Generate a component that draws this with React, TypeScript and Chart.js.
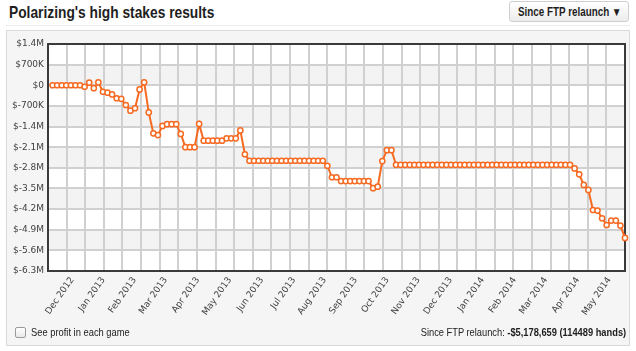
import React, { useEffect, useRef } from 'react';
import { Chart, registerables } from 'chart.js';

Chart.register(...registerables);

const monthLabels = [
  'Dec 2012', 'Jan 2013', 'Feb 2013', 'Mar 2013', 'Apr 2013', 'May 2013',
  'Jun 2013', 'Jul 2013', 'Aug 2013', 'Sep 2013', 'Oct 2013', 'Nov 2013',
  'Dec 2013', 'Jan 2014', 'Feb 2014', 'Mar 2014', 'Apr 2014', 'May 2014',
];
// position of each month tick along the game-index axis
const monthTickPos = [
  4.3, 11.1, 17.9, 24.7, 31.7, 38.7, 45.7, 52.7, 59.4,
  66.2, 73.1, 79.9, 86.9, 93.9, 100.9, 107.7, 114.7, 121.6,
];

// cumulative profit ($) after each game sample
const profit = [
  0, 0, 0, 0, 0, 0, 0, -50000,
  90000, -100000, 100000, -220000, -250000, -310000, -440000, -460000,
  -670000, -860000, -780000, -140000, 100000, -920000, -1630000, -1690000,
  -1380000, -1320000, -1320000, -1320000, -1650000, -2100000, -2100000, -2100000,
  -1310000, -1880000, -1880000, -1880000, -1880000, -1880000, -1800000, -1800000,
  -1800000, -1530000, -2340000, -2560000,
  -2560000, -2560000, -2560000, -2560000, -2560000, -2560000, -2560000, -2560000,
  -2560000, -2560000, -2560000, -2560000, -2560000, -2560000, -2560000, -2560000,
  -2730000, -3120000, -3120000, -3250000, -3250000, -3250000, -3250000, -3250000,
  -3250000, -3250000, -3490000, -3440000, -2570000, -2200000, -2200000, -2700000,
  -2700000, -2700000, -2700000, -2700000, -2700000, -2700000, -2700000, -2700000,
  -2700000, -2700000, -2700000, -2700000, -2700000, -2700000, -2700000, -2700000,
  -2700000, -2700000, -2700000, -2700000, -2700000, -2700000, -2700000, -2700000,
  -2700000, -2700000, -2700000, -2700000, -2700000, -2700000, -2700000, -2700000,
  -2700000, -2700000, -2700000, -2700000, -2700000, -2700000,
  -2820000, -3020000, -3380000, -3550000, -4230000, -4250000, -4510000, -4740000,
  -4590000, -4590000, -4760000, -5178659,
];

const yMin = -6300000;
const yMax = 1400000;
const yStep = 700000;
const xMin = -1;
const xMax = 125;
const gridDivisions = 31;

function fmtMoney(v: number): string {
  if (v === 0) return '$0';
  const a = Math.abs(v);
  const sign = v < 0 ? '-' : '';
  if (a >= 1000000) return '$' + sign + (Math.round(a / 100000) / 10) + 'M';
  return '$' + sign + Math.round(a / 1000) + 'K';
}

const plotFrame = {
  id: 'plotFrame',
  beforeDraw(chart: any) {
    const { ctx, chartArea: a, scales } = chart;
    const y = scales.y;
    ctx.save();
    ctx.fillStyle = '#ffffff';
    ctx.fillRect(a.left, a.top, a.right - a.left, a.bottom - a.top);
    const vals = y.ticks.map((t: any) => t.value).sort((p: number, q: number) => q - p);
    ctx.fillStyle = '#f3f3f3';
    for (let k = 0; k < vals.length - 1; k++) {
      if (k % 2 === 1) {
        const y1 = y.getPixelForValue(vals[k]);
        const y2 = y.getPixelForValue(vals[k + 1]);
        ctx.fillRect(a.left, y1, a.right - a.left, y2 - y1);
      }
    }
    ctx.restore();
  },
  beforeDatasetsDraw(chart: any) {
    const { ctx, chartArea: a } = chart;
    ctx.save();
    ctx.strokeStyle = '#3a3a3a';
    ctx.lineWidth = 2;
    ctx.strokeRect(a.left, a.top, a.right - a.left, a.bottom - a.top);
    ctx.restore();
  },
};

function ProfitChart() {
  const ref = useRef<HTMLCanvasElement | null>(null);
  useEffect(() => {
    if (!ref.current) return;
    const tickFont = { family: "'DejaVu Sans', Verdana, sans-serif", size: 9 };
    const chart = new Chart(ref.current, {
      type: 'line',
      data: {
        datasets: [
          {
            data: profit.map((v, i) => ({ x: i, y: v })),
            borderColor: '#f76a22',
            borderWidth: 2,
            pointRadius: 2.6,
            pointBorderWidth: 1.5,
            pointBackgroundColor: '#ffffff',
            pointBorderColor: '#f76a22',
            tension: 0,
            clip: false,
            xAxisID: 'x',
            yAxisID: 'y',
          } as any,
        ],
      },
      options: {
        responsive: false,
        animation: false,
        devicePixelRatio: 1,
        events: [],
        layout: { padding: { top: 44, right: 11, bottom: 20, left: 0 } },
        plugins: { legend: { display: false }, tooltip: { enabled: false }, title: { display: false } },
        scales: {
          xg: {
            type: 'linear',
            position: 'bottom',
            min: xMin,
            max: xMax,
            afterBuildTicks: (s: any) => {
              const t = [];
              for (let k = 0; k <= gridDivisions; k++) t.push({ value: xMin + (k * (xMax - xMin)) / gridDivisions });
              s.ticks = t;
            },
            afterFit: (s: any) => { s.height = 0; },
            grid: { display: true, color: '#d0d0d0', lineWidth: 2, drawTicks: false },
            border: { display: false },
            ticks: { display: false },
          },
          x: {
            type: 'linear',
            position: 'bottom',
            min: xMin,
            max: xMax,
            afterBuildTicks: (s: any) => {
              s.ticks = monthTickPos.map((v) => ({ value: v }));
            },
            afterFit: (s: any) => { s.height = 60; },
            grid: { display: false, drawTicks: false },
            border: { display: false },
            ticks: {
              autoSkip: false,
              minRotation: 55,
              maxRotation: 55,
              padding: 4,
              color: '#3f3f3f',
              font: tickFont,
              callback: (_v: any, i: number) => monthLabels[i],
            },
          },
          y: {
            type: 'linear',
            min: yMin,
            max: yMax,
            afterFit: (s: any) => { s.width = 48; },
            grid: { color: '#d0d0d0', lineWidth: 2, drawTicks: false },
            border: { display: false },
            ticks: {
              stepSize: yStep,
              padding: 4,
              color: '#3f3f3f',
              font: tickFont,
              callback: (v: any) => fmtMoney(Number(v)),
            },
          },
        },
      },
      plugins: [plotFrame],
    } as any);
    return () => chart.destroy();
  }, []);
  return <canvas ref={ref} width={636} height={351} style={{ position: 'absolute', left: 0, top: 0, width: 636, height: 351 }} />;
}

const sans = "'Liberation Sans', Arial, Helvetica, sans-serif";

export default function App() {
  return (
    <div style={{ position: 'absolute', left: 0, top: 0, width: 636, height: 351, background: '#ffffff', overflow: 'hidden', fontFamily: sans }}>
      <div style={{ position: 'absolute', left: 9, top: 3, fontSize: 17, lineHeight: '20px', fontWeight: 'bold', color: '#1e1e1e', whiteSpace: 'nowrap', transform: 'scaleX(0.81)', transformOrigin: 'left top' }}>
        Polarizing's high stakes results
      </div>
      <div style={{ position: 'absolute', left: 509, top: 1, width: 120, height: 21, boxSizing: 'border-box', border: '1px solid #cfcfcf', borderRadius: 3, background: 'linear-gradient(#ffffff, #ececec)' }}>
        <div style={{ position: 'absolute', left: 8, top: 3, fontSize: 12, lineHeight: '14px', fontWeight: 'bold', color: '#1e1e1e', whiteSpace: 'nowrap', transform: 'scaleX(0.82)', transformOrigin: 'left top' }}>
          Since FTP relaunch ▼
        </div>
      </div>
      <div style={{ position: 'absolute', left: 6, top: 25, width: 624, height: 1, background: '#ececec' }} />
      <div style={{ position: 'absolute', left: 6, top: 30, width: 624, height: 316, boxSizing: 'border-box', border: '1px solid #d9d9d9', background: '#f5f5f5' }} />
      <ProfitChart />
      <div style={{ position: 'absolute', left: 15, top: 327, width: 11, height: 11, boxSizing: 'border-box', border: '1px solid #9a9a9a', borderRadius: 2, background: 'linear-gradient(#ffffff, #e8e8e8)' }} />
      <div style={{ position: 'absolute', left: 31, top: 326, fontSize: 11, lineHeight: '13px', color: '#222', whiteSpace: 'nowrap', transform: 'scaleX(0.85)', transformOrigin: 'left top' }}>
        See profit in each game
      </div>
      <div style={{ position: 'absolute', right: 10, top: 326, fontSize: 11, lineHeight: '13px', color: '#222', whiteSpace: 'nowrap', transform: 'scaleX(0.845)', transformOrigin: 'right top' }}>
        Since FTP relaunch: <b>-$5,178,659 (114489 hands)</b>
      </div>
    </div>
  );
}
